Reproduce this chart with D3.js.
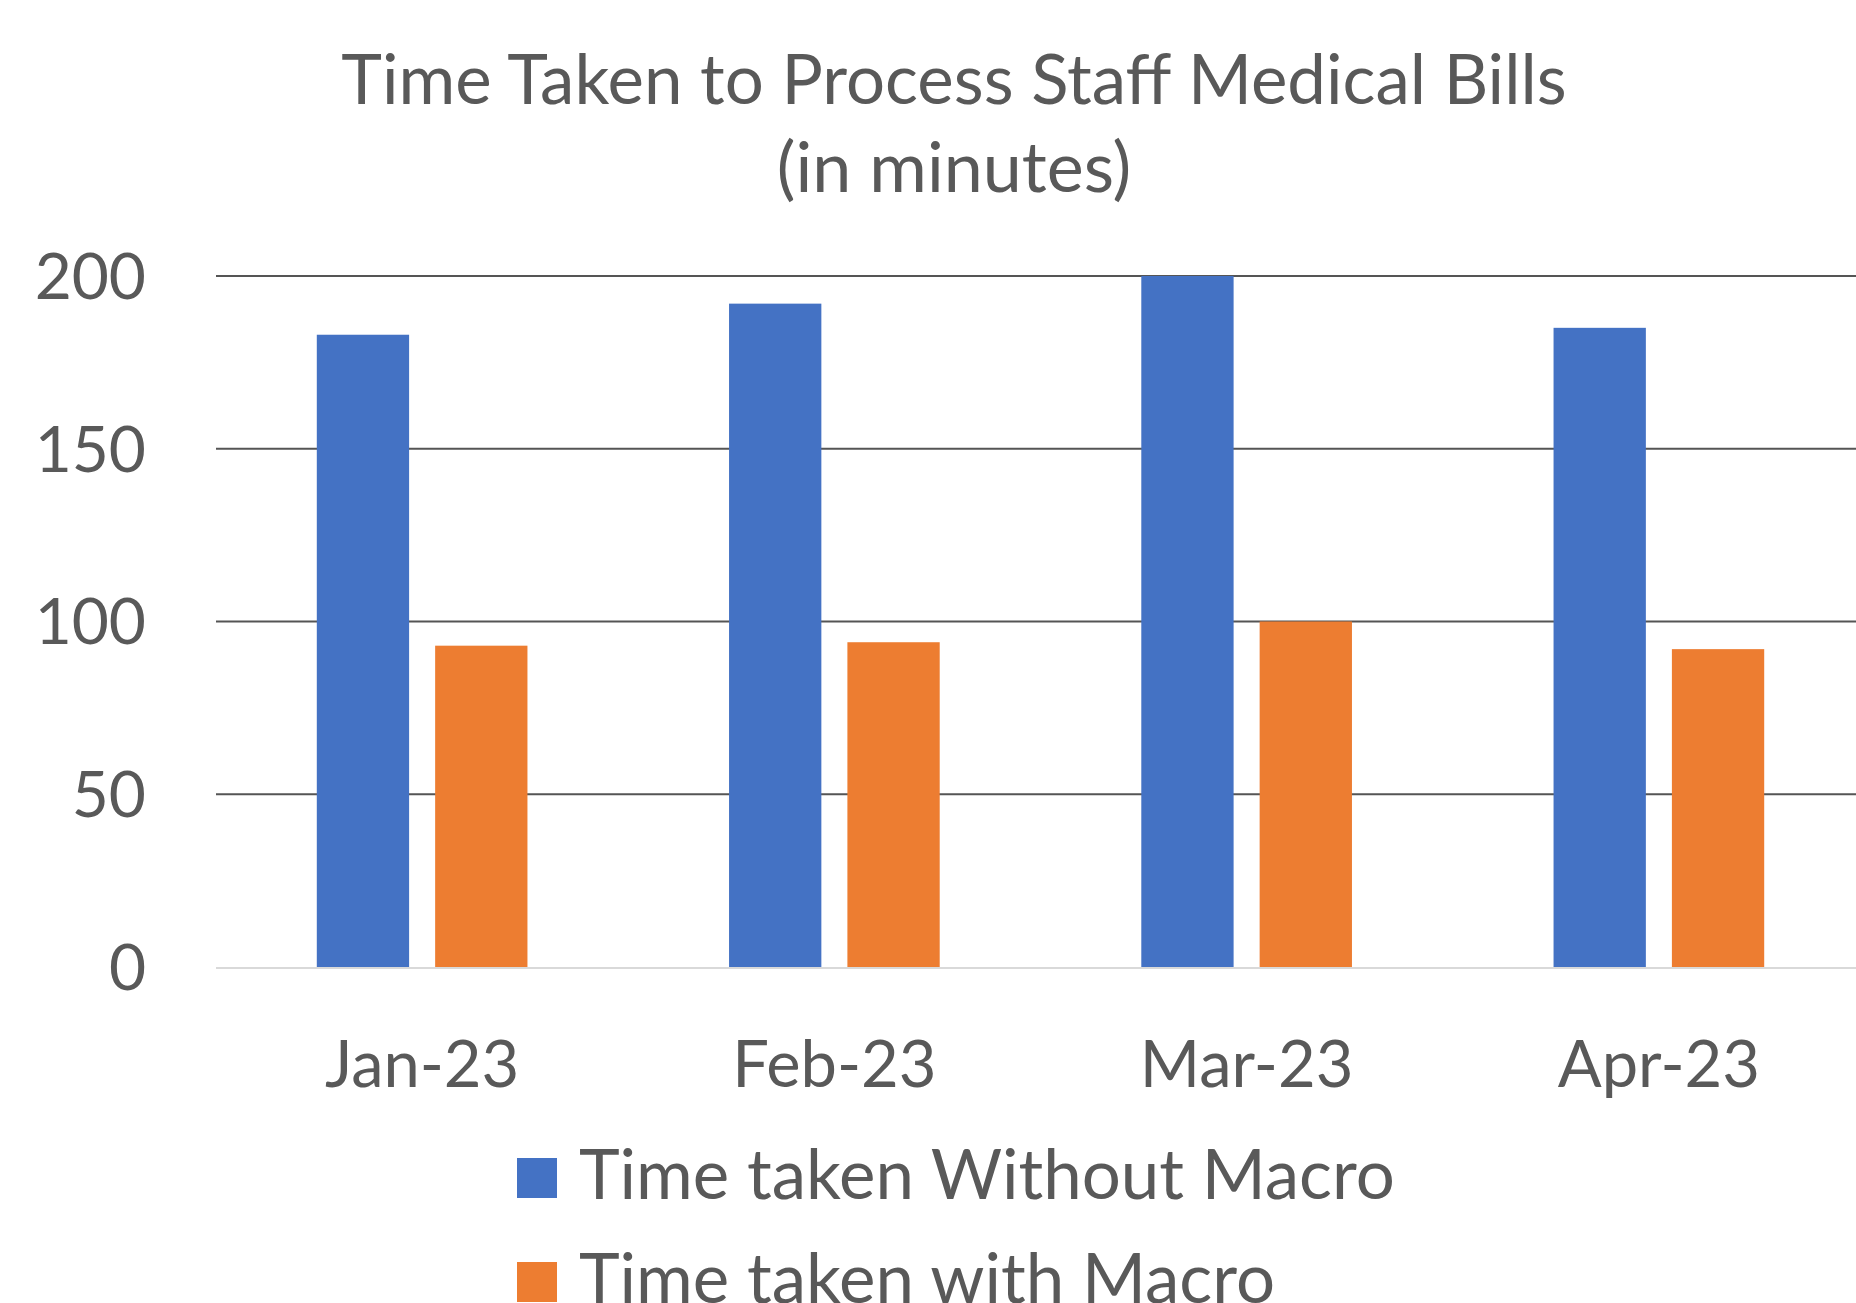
<!DOCTYPE html>
<html>
<head>
<meta charset="utf-8">
<script src="https://cdn.jsdelivr.net/npm/d3@7"></script>
<style>
  body { margin: 0; background: #fff; }
  svg text { font-family: Lato, "Open Sans", sans-serif; fill: #595959; }
</style>
</head>
<body>
<svg id="chart"></svg>
<script>
const months = ["Jan-23", "Feb-23", "Mar-23", "Apr-23"]
const seriesNames = ["Time taken Without Macro", "Time taken with Macro"]
const withoutMacro = [183, 192, 200, 185]
const withMacro = [93, 94, 100, 92]
const yTicks = [0, 50, 100, 150, 200]
const colors = ["#4472C4", "#ED7D31"]

const width = 1856, height = 1303
const margin = {top: 276, left: 216, bottom: 967}

const svg = d3.select("#chart")
	.attr("width", width)
	.attr("height", height)

const rows = months.map((m, i) => ({month: m, values: [withoutMacro[i], withMacro[i]]}))

const y = d3.scaleLinear().domain([0, 200]).range([margin.bottom, margin.top])
const x0 = d3.scaleBand().domain(months).range([margin.left, 1865]).paddingInner(0.489).paddingOuter(0.2445)
const x1 = d3.scaleBand().domain([0, 1]).range([0, x0.bandwidth()]).paddingInner(0.22)

// title
const title = svg.append("text")
	.attr("text-anchor", "middle")
title.append("tspan").attr("x", 954).attr("y", 104).style("font-size", "69px").text("Time Taken to Process Staff Medical Bills")
title.append("tspan").attr("x", 954).attr("y", 192).style("font-size", "70px").text("(in minutes)")

// gridlines
svg.append("g")
	.selectAll("line")
	.data(yTicks.filter(d => d > 0))
	.join("line")
	.attr("x1", margin.left)
	.attr("x2", width)
	.attr("y1", d => y(d))
	.attr("y2", d => y(d))
	.attr("stroke", "#555")
	.attr("stroke-width", 2)

// y axis labels
const yAxis = d3.axisLeft(y).tickValues(yTicks).tickSize(0).tickPadding(0)
svg.append("g")
	.attr("transform", `translate(146,2)`)
	.call(yAxis)
	.call(g => g.select(".domain").remove())
	.selectAll("text")
	.style("font-size", "64px")
	.attr("fill", "#595959")
	.style("font-family", "Lato, sans-serif")

// bars
svg.append("g")
	.selectAll("g")
	.data(rows)
	.join("g")
	.attr("transform", d => `translate(${x0(d.month)},0)`)
	.selectAll("rect")
	.data(d => d.values.map((v, k) => ({k, v})))
	.join("rect")
	.attr("x", d => x1(d.k))
	.attr("width", x1.bandwidth())
	.attr("y", d => y(d.v))
	.attr("height", d => y(0) - y(d.v))
	.attr("fill", d => colors[d.k])

// baseline
svg.append("line")
	.attr("x1", margin.left)
	.attr("x2", width)
	.attr("y1", y(0) + 1)
	.attr("y2", y(0) + 1)
	.attr("stroke", "#D9D9D9")
	.attr("stroke-width", 2)

// x labels
const xAxis = d3.axisBottom(x0).tickSize(0).tickPadding(0)
svg.append("g")
	.attr("transform", `translate(0,${y(0)})`)
	.call(xAxis)
	.call(g => g.select(".domain").remove())
	.selectAll("text")
	.attr("dy", null)
	.attr("y", 1087 - y(0))
	.style("font-size", "65px")
	.attr("fill", "#595959")
	.style("font-family", "Lato, sans-serif")

// legend
const legend = svg.append("g")
	.selectAll("g")
	.data(seriesNames)
	.join("g")
	.attr("transform", (d, i) => `translate(517,${1158 + i * 104})`)
legend.append("rect")
	.attr("width", 40)
	.attr("height", 40)
	.attr("fill", (d, i) => colors[i])
legend.append("text")
	.attr("x", 62)
	.attr("y", 41)
	.style("font-size", "69px")
	.text(d => d)
</script>
</body>
</html>
